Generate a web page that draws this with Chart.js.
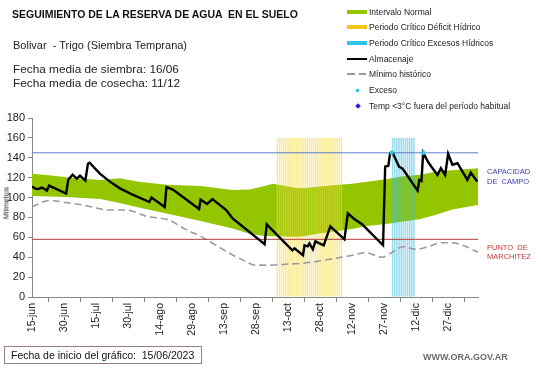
<!DOCTYPE html>
<html lang="es">
<head>
<meta charset="utf-8">
<title>Seguimiento de la reserva de agua en el suelo</title>
<script src="https://cdn.jsdelivr.net/npm/chart.js@4.4.1/dist/chart.umd.min.js"></script>
<style>
  body { margin: 0; background: #fff; font-family: "Liberation Sans", Arial, sans-serif; }
  #wrap { position: relative; width: 541px; height: 368px; overflow: hidden; background: #fff; }
  #grafico { position: absolute; left: 0; top: 0; }
  .txt { position: absolute; white-space: pre; line-height: 1; color: #111; }
  .ley { position: absolute; left: 369px; font-size: 8.5px; line-height: 1; color: #222; white-space: pre; }
  .sw { position: absolute; }
</style>
</head>
<body>
<div id="wrap">
  <canvas id="grafico" width="541" height="368"></canvas>

  <div class="txt" style="left:12px;top:9px;font-size:10.5px;font-weight:bold;">SEGUIMIENTO DE LA RESERVA DE AGUA  EN EL SUELO</div>
  <div class="txt" style="left:13px;top:39.5px;font-size:11px;color:#222;">Bolivar  - Trigo (Siembra Temprana)</div>
  <div class="txt" style="left:13px;top:64px;font-size:11.8px;color:#222;">Fecha media de siembra: 16/06</div>
  <div class="txt" style="left:13px;top:78px;font-size:11.8px;color:#222;">Fecha media de cosecha: 11/12</div>

  <!-- leyenda -->
  <div class="sw" style="left:347px;top:10px;width:20px;height:4px;background:#94c600;"></div>
  <div class="ley" style="top:8px;">Intervalo Normal</div>
  <div class="sw" style="left:347px;top:25px;width:20px;height:4px;background:#f7c21c;"></div>
  <div class="ley" style="top:23px;">Periodo Crítico Déficit Hídrico</div>
  <div class="sw" style="left:347px;top:41px;width:20px;height:4px;background:#2ec4ee;"></div>
  <div class="ley" style="top:38.5px;">Periodo Crítico Excesos Hídricos</div>
  <div class="sw" style="left:347px;top:58px;width:20px;height:2px;background:#000;"></div>
  <div class="ley" style="top:55px;">Almacenaje</div>
  <div class="sw" style="left:347px;top:73px;width:8px;height:2px;background:#999;"></div>
  <div class="sw" style="left:359px;top:73px;width:7px;height:2px;background:#999;"></div>
  <div class="ley" style="top:69.5px;">Mínimo histórico</div>
  <div class="sw" style="left:356px;top:89px;width:3px;height:3px;background:#33c3e3;"></div>
  <div class="ley" style="top:86px;">Exceso</div>
  <div class="sw" style="left:355.5px;top:104px;width:4px;height:4px;background:#2424c8;transform:rotate(45deg);"></div>
  <div class="ley" style="top:102px;">Temp &lt;3°C fuera del período habitual</div>

  <div class="txt" style="left:487px;top:168px;font-size:7.5px;color:#3b3bb0;">CAPACIDAD</div>
  <div class="txt" style="left:487px;top:177.5px;font-size:7.5px;color:#3b3bb0;">DE  CAMPO</div>
  <div class="txt" style="left:487px;top:244px;font-size:7.5px;color:#c33a3a;">PUNTO  DE</div>
  <div class="txt" style="left:487px;top:253px;font-size:7.5px;color:#c33a3a;">MARCHITEZ</div>

  <div class="txt" style="left:6px;top:203px;font-size:7px;color:#222;transform:translate(-50%,-50%) rotate(-90deg);">Milímetros</div>

  <div class="txt" style="left:4px;top:346px;width:190px;height:13px;padding:3px 0 0 6px;border:1px solid #9b8080;font-size:10.5px;color:#111;">Fecha de inicio del gráfico:  15/06/2023</div>
  <div class="txt" style="left:423px;top:353px;font-size:9px;font-weight:bold;color:#6d6d6d;">WWW.ORA.GOV.AR</div>
</div>

<script>
// eje x: dias desde el 15/06/2023
const tickLabels = ['15-jun', '30-jun', '15-jul', '30-jul', '14-ago', '29-ago', '13-sep',
  '28-sep', '13-oct', '28-oct', '12-nov', '27-nov', '12-dic', '27-dic'];
const ultimoDia = 209;

// intervalo normal (banda verde)
const diasNormal = [0, 8, 16, 24, 32, 41, 50, 63, 79, 94, 102, 108, 113, 124, 127, 135, 141, 150, 157, 166, 174, 182, 189, 197, 209];
const normalSup = [124, 122.5, 120.5, 119, 117.7, 119.5, 116, 113, 111.5, 107.5, 108, 111, 114, 109.5, 109.3, 111, 112.5, 114, 116, 118.5, 121.5, 123, 126, 127.5, 129.5];
const normalInf = [101.6, 101, 100.5, 99.5, 98.6, 94.5, 90, 84, 76.5, 69, 63.5, 61.5, 61, 60.7, 61, 64, 65.5, 68.5, 71.5, 73.5, 76, 78.5, 82.5, 88, 92.5];

// minimo historico
const diasMinimo = [0, 8, 16, 24, 36, 44, 54, 64, 72, 79, 87, 94, 100, 104, 111, 119, 127, 134, 141, 149, 156.5, 164, 168, 174, 180, 186, 192, 197, 203, 209];
const minimoHist = [90.8, 97, 95, 92.5, 87.5, 87.5, 81, 77.5, 68, 61, 51, 42.3, 36, 32.2, 32, 33, 34, 36, 38.5, 41.5, 44.6, 40, 44, 50.6, 48, 51, 54.6, 54.6, 51, 45];

// almacenaje
const diasAlmacenaje = [0, 1.5, 3, 4.5, 6, 7, 8, 16, 17, 19, 21, 22.5, 25, 26.2, 27, 31.8, 36.5, 41, 47.4, 55, 56, 62.2, 63, 66,
  78.3, 79, 82, 84.5, 91, 94, 109, 110, 122, 123, 127, 127.7, 129.2, 130, 131.6, 132.8, 134.7, 136.7, 139.8, 146.4,
  148, 151, 154.8, 155.8, 164.5, 165.5, 167, 167.8, 169, 172, 173.7, 180.7, 181.5, 182.5, 183.3, 186, 190, 191.6,
  193.6, 195, 197, 199.4, 204, 205.6, 208.7];
const almacenaje = [111, 109, 108.5, 110, 108.5, 107, 112, 104, 118, 123, 119, 122, 117, 134, 135, 124, 116, 109.5, 102.6, 95.5, 100, 90.5, 110.5, 108,
  88.5, 98, 93.5, 98.5, 87.5, 79, 53, 73, 47, 49, 42, 52, 51, 54, 48, 56, 54, 52, 71, 58,
  84, 78.5, 73, 70.7, 52, 131, 132, 144.5, 145, 131, 129, 107, 117.7, 116.7, 145, 134.5, 122.7, 129.5,
  122.7, 144, 133, 134.5, 117.7, 125, 116];

// excesos
const diasExceso = [168.5, 183.3];
const exceso = [145, 145];

// periodos criticos [desde, hasta]
const periodoDeficit = [115, 145];
const periodoExceso = [169, 179];
const techoPeriodo = 160;

const capacidadCampo = 145;
const puntoMarchitez = 58;

const puntos = (dias, valores) => dias.map((d, i) => ({ x: d, y: valores[i] }));
const barrasPeriodo = (p) => {
  const out = [];
  for (let d = p[0]; d <= p[1]; d++) out.push({ x: d, y: techoPeriodo });
  return out;
};

Chart.defaults.font.family = '"Liberation Sans", Arial, sans-serif';
Chart.defaults.color = '#222';

new Chart(document.getElementById('grafico'), {
  type: 'line',
  data: {
    datasets: [
      { label: 'Exceso', type: 'scatter', data: puntos(diasExceso, exceso), pointRadius: 2.2, pointBackgroundColor: '#33c3e3', pointBorderWidth: 0, order: 0 },
      { label: 'Almacenaje', data: puntos(diasAlmacenaje, almacenaje), borderColor: '#000', borderWidth: 2.4, pointRadius: 0, tension: 0, order: 1 },
      { label: 'Capacidad de campo', data: puntos([0, ultimoDia], [capacidadCampo, capacidadCampo]), borderColor: '#5a7fc8', borderWidth: 1, pointRadius: 0, order: 2 },
      { label: 'Punto de marchitez', data: puntos([0, ultimoDia], [puntoMarchitez, puntoMarchitez]), borderColor: '#b23c3c', borderWidth: 1, pointRadius: 0, order: 2 },
      { label: 'Mínimo histórico', data: puntos(diasMinimo, minimoHist), borderColor: '#9a9a9a', borderWidth: 1.6, borderDash: [7, 4], pointRadius: 0, cubicInterpolationMode: 'monotone', order: 3 },
      { label: 'Periodo Crítico Déficit Hídrico', type: 'bar', data: barrasPeriodo(periodoDeficit), backgroundColor: 'rgba(240,215,70,0.5)', barPercentage: 0.75, categoryPercentage: 1, grouped: false, order: 4 },
      { label: 'Periodo Crítico Excesos Hídricos', type: 'bar', data: barrasPeriodo(periodoExceso), backgroundColor: 'rgba(60,190,220,0.5)', barPercentage: 0.75, categoryPercentage: 1, grouped: false, order: 4 },
      { label: 'Intervalo Normal sup', data: puntos(diasNormal, normalSup), borderWidth: 0, borderColor: 'rgba(0,0,0,0)', backgroundColor: '#94c600', pointRadius: 0, fill: '+1', order: 5 },
      { label: 'Intervalo Normal inf', data: puntos(diasNormal, normalInf), borderWidth: 0, borderColor: 'rgba(0,0,0,0)', pointRadius: 0, fill: false, order: 6 }
    ]
  },
  options: {
    responsive: false,
    devicePixelRatio: 1,
    animation: false,
    layout: { padding: { left: 0, top: 118, right: 63, bottom: 0 } },
    plugins: { legend: { display: false }, tooltip: { enabled: false } },
    scales: {
      x: {
        type: 'linear',
        min: 0,
        max: ultimoDia,
        offset: false,
        grid: { drawOnChartArea: false, tickLength: 5, color: '#868686' },
        border: { color: '#868686' },
        afterBuildTicks: (scale) => { scale.ticks = tickLabels.map((_, i) => ({ value: i * 15 })); },
        afterFit: (scale) => { scale.height = 71; },
        ticks: {
          autoSkip: false,
          minRotation: 90,
          maxRotation: 90,
          padding: 1,
          font: { size: 10.5 },
          color: '#222',
          callback: (v) => tickLabels[Math.round(v / 15)] || ''
        }
      },
      y: {
        min: 0,
        max: 180,
        grid: { drawOnChartArea: false, tickLength: 4, color: '#868686' },
        border: { color: '#868686' },
        afterFit: (scale) => { scale.width = 32; },
        ticks: { stepSize: 20, padding: 3, font: { size: 11 }, color: '#222' }
      }
    }
  }
});
</script>
</body>
</html>
